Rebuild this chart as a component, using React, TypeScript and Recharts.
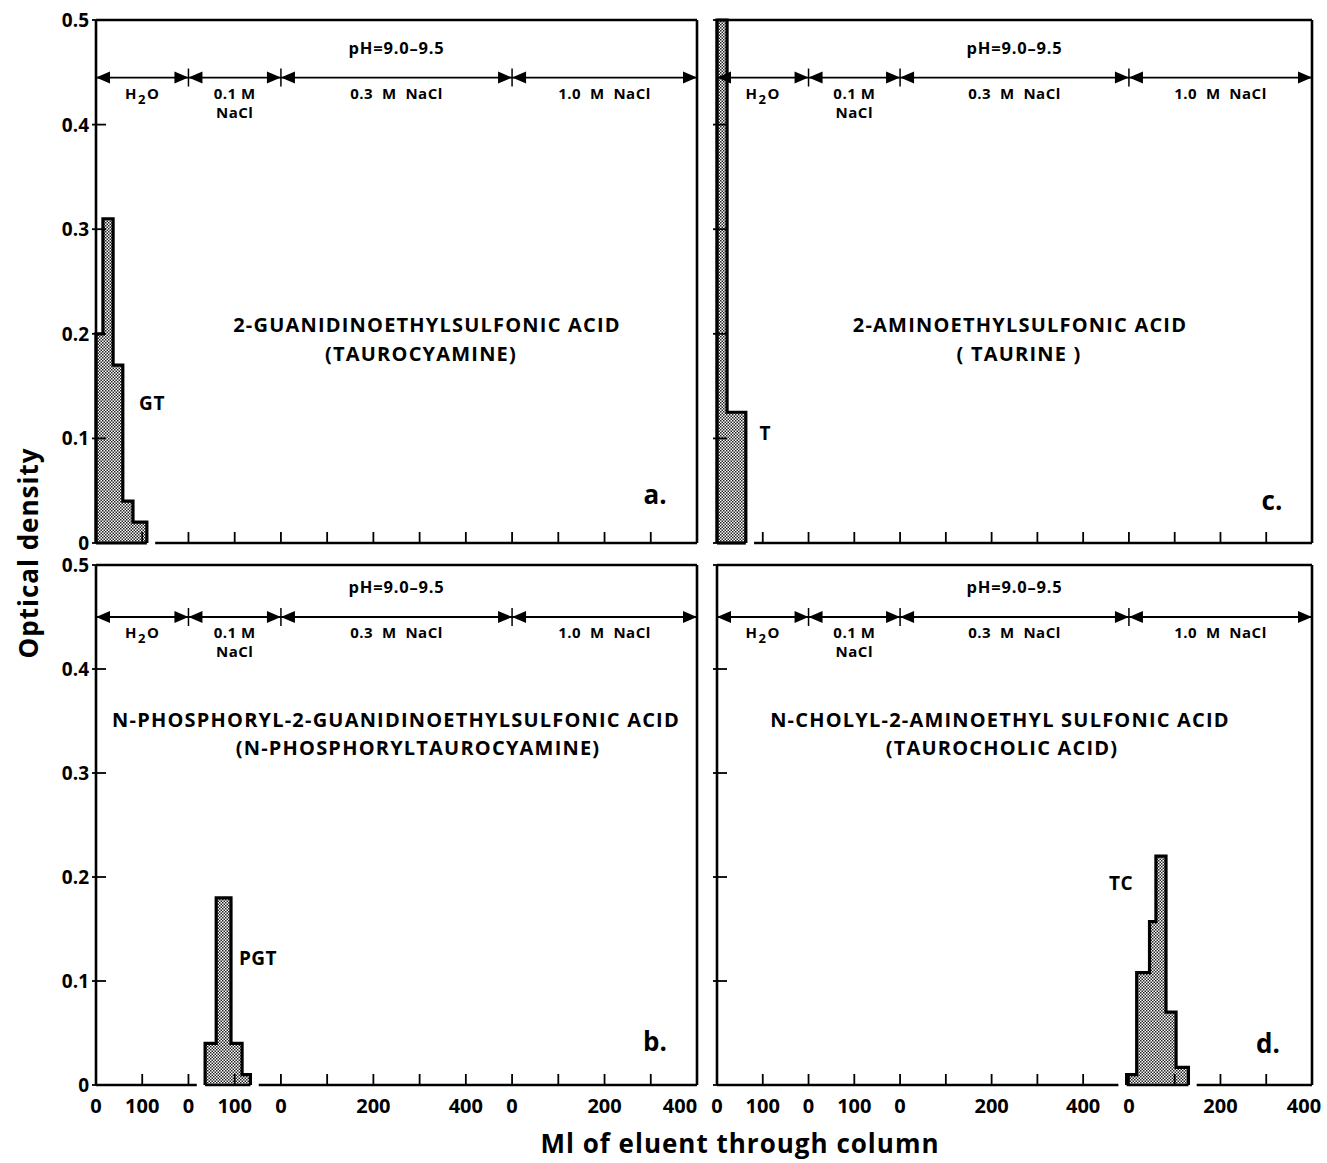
import React from 'react';
import { ComposedChart, Area, XAxis, YAxis, ReferenceLine, ReferenceDot } from 'recharts';

// the x axis runs through four eluent segments laid end to end (ml, cumulative)
const segmentStarts = [0, 200, 400, 900];
const segmentEnds = [200, 400, 900, 1300];
const segmentCenters = [100, 300, 650, 1100];
const segmentNames = [['H2O'], ['0.1 M', 'NaCl'], ['0.3  M  NaCl'], ['1.0  M  NaCl']];
const segmentTickLabels = [[0, 100], [0, 100], [0, 200, 400], [0, 200, 400]];
const xTicks = [0, 100, 200, 300, 400, 500, 600, 700, 800, 900, 1000, 1100, 1200, 1300];
const yTicks = [0, 0.1, 0.2, 0.3, 0.4, 0.5];
const phText = 'pH=9.0\u20139.5';

// fraction edges (ml) and optical density of each fraction
const gtEdges = [0, 15, 37, 58, 80, 110];
const gtDensity = [0.2, 0.31, 0.17, 0.04, 0.02];
const pgtEdges = [236, 260, 292, 316, 334];
const pgtDensity = [0.04, 0.18, 0.04, 0.01];
const tEdges = [0, 22, 63];
const tDensity = [0.5, 0.125];
const tcEdges = [895, 917, 945, 959, 981, 1003, 1030];
const tcDensity = [0.01, 0.108, 0.157, 0.22, 0.07, 0.017];

const FONT = "'Open Sans', 'DejaVu Sans', sans-serif";
const AXIS_GAP = 18; // ml of bare baseline left either side of a peak

const stepData = (edges: number[], values: number[]) => {
  const pts = [{ ml: edges[0], od: 0 }];
  values.forEach((v, i) => pts.push({ ml: edges[i], od: v }));
  pts.push({ ml: edges[edges.length - 1], od: 0 });
  return pts;
};

const tickLabel = (t: number) => {
  for (let i = 0; i < segmentStarts.length; i++) {
    const local = t - segmentStarts[i];
    if (t <= segmentEnds[i] && segmentTickLabels[i].includes(local)) return String(local);
  }
  return '';
};

const BottomTick = (props: any) => {
  const { x, y, payload, showLabel, lastShift } = props;
  const label = showLabel ? tickLabel(payload.value) : '';
  const isLast = payload.value === xTicks[xTicks.length - 1];
  return (
    <g>
      <line x1={x} x2={x} y1={y} y2={y - 11} stroke="#000" strokeWidth={1.8} />
      {label && (
        <text x={x + (isLast ? lastShift : 0)} y={y + 28} textAnchor="middle" fontSize={20} fontWeight={700} fontFamily={FONT} fill="#000">
          {label}
        </text>
      )}
    </g>
  );
};

const TopTick = (props: any) => {
  const { x, y } = props;
  return <line x1={x} x2={x} y1={y} y2={y + 11} stroke="#000" strokeWidth={1.8} />;
};

const LeftTick = (props: any) => {
  const { x, y, payload, showLabel } = props;
  return (
    <g>
      <line x1={x - 4} x2={x + 10} y1={y} y2={y} stroke="#000" strokeWidth={1.8} />
      {showLabel && (
        <text x={x - 7} y={y + 7} textAnchor="end" fontSize={19} fontWeight={700} fontFamily={FONT} fill="#000">
          {String(payload.value)}
        </text>
      )}
    </g>
  );
};

const RightTick = (props: any) => {
  const { x, y } = props;
  return <line x1={x - 11} x2={x} y1={y} y2={y} stroke="#000" strokeWidth={1.8} />;
};

const BoundaryMark = (props: any) => {
  const { cx, cy, index } = props;
  const first = index === 0;
  const last = index === segmentEnds.length;
  return (
    <g>
      {!last && <polygon points={`${cx},${cy} ${cx + 14},${cy - 6} ${cx + 14},${cy + 6}`} fill="#000" />}
      {!first && <polygon points={`${cx},${cy} ${cx - 14},${cy - 6} ${cx - 14},${cy + 6}`} fill="#000" />}
      {!first && !last && <line x1={cx} x2={cx} y1={cy - 9} y2={cy + 9} stroke="#000" strokeWidth={1.5} />}
    </g>
  );
};

const SegmentName = (props: any) => {
  const { cx, cy, lines } = props;
  return (
    <g fontFamily={FONT} fontWeight={700} fontSize={15} fill="#000" letterSpacing={0.5}>
      {lines.map((ln: string, i: number) =>
        ln === 'H2O' ? (
          <text key={i} x={cx} y={cy + 21} textAnchor="middle">
            H<tspan dx={1} dy={5} fontSize={13}>2</tspan>
            <tspan dx={1} dy={-5}>O</tspan>
          </text>
        ) : (
          <text key={i} x={cx} y={cy + 21 + i * 19} textAnchor="middle" style={{ whiteSpace: 'pre' }}>
            {ln}
          </text>
        ),
      )}
    </g>
  );
};

const PhLabel = (props: any) => {
  const { cx, cy } = props;
  return (
    <text x={cx} y={cy - 24} textAnchor="middle" fontFamily={FONT} fontWeight={700} fontSize={16.5} letterSpacing={0.8} fill="#000">
      {phText}
    </text>
  );
};

interface PanelProps {
  left: number;
  top: number;
  plotW: number;
  plotH: number;
  edges: number[];
  density: number[];
  yLabels: boolean;
  xLabels: boolean;
  lastShift: number;
  arrowLevel: number;
}

function Panel({ left, top, plotW, plotH, edges, density, yLabels, xLabels, lastShift, arrowLevel }: PanelProps) {
  const data = stepData(edges, density);
  const boundaries = [segmentStarts[0], ...segmentEnds];
  const frame = { stroke: '#000', strokeWidth: 2.6 };
  const first = edges[0];
  const last = edges[edges.length - 1];
  // baseline: broken a little on either side of the peak, as in the original drawing
  const baseline: [number, number][] = [];
  if (first - AXIS_GAP > 0) baseline.push([0, first - AXIS_GAP]);
  baseline.push([first, last]);
  if (last + AXIS_GAP < 1300) baseline.push([last + AXIS_GAP, 1300]);
  return (
    <div style={{ position: 'absolute', left: left - 60, top: top - 20 }}>
      <ComposedChart width={plotW + 80} height={plotH + 64} data={data} margin={{ top: 0, right: 0, bottom: 0, left: 0 }}>
        <defs>
          <pattern id="stipple" width="3" height="3" patternUnits="userSpaceOnUse">
            <rect width="3" height="3" fill="#fff" />
            <rect width="1.5" height="1.5" fill="#222" />
            <rect x="1.5" y="1.5" width="1.5" height="1.5" fill="#222" />
          </pattern>
        </defs>
        <XAxis
          dataKey="ml"
          type="number"
          domain={[0, 1300]}
          ticks={xTicks}
          interval={0}
          height={44}
          tickSize={0}
          tickMargin={0}
          axisLine={false}
          tickLine={false}
          tick={(p: any) => <BottomTick {...p} showLabel={xLabels} lastShift={lastShift} />}
        />
        <XAxis
          xAxisId="top"
          orientation="top"
          type="number"
          domain={[0, 1300]}
          ticks={xTicks}
          interval={0}
          height={20}
          tickSize={0}
          tickMargin={0}
          axisLine={frame}
          tickLine={false}
          tick={TopTick}
        />
        <YAxis
          type="number"
          domain={[0, 0.5]}
          ticks={yTicks}
          interval={0}
          width={60}
          tickSize={0}
          tickMargin={0}
          axisLine={frame}
          tickLine={false}
          tick={(p: any) => <LeftTick {...p} showLabel={yLabels} />}
        />
        <YAxis
          yAxisId="right"
          orientation="right"
          type="number"
          domain={[0, 0.5]}
          ticks={yTicks}
          interval={0}
          width={20}
          tickSize={0}
          tickMargin={0}
          axisLine={frame}
          tickLine={false}
          tick={RightTick}
        />
        {baseline.map(([a, b], i) => (
          <ReferenceLine
            key={`base${i}`}
            segment={[{ x: a, y: 0 }, { x: b, y: 0 }]}
            stroke="#000"
            strokeWidth={i === 0 && first - AXIS_GAP <= 0 ? 3.2 : 2.6}
          />
        ))}
        <ReferenceLine y={arrowLevel} stroke="#000" strokeWidth={1.8} />
        {boundaries.map((b, i) => (
          <ReferenceDot key={`b${i}`} x={b} y={arrowLevel} shape={(p: any) => <BoundaryMark {...p} index={i} />} />
        ))}
        {segmentCenters.map((c, i) => (
          <ReferenceDot key={`s${i}`} x={c} y={arrowLevel} shape={(p: any) => <SegmentName {...p} lines={segmentNames[i]} />} />
        ))}
        <ReferenceDot x={segmentCenters[2]} y={arrowLevel} shape={PhLabel} />
        <Area
          dataKey="od"
          type="stepAfter"
          stroke="#000"
          strokeWidth={3.2}
          fill="url(#stipple)"
          fillOpacity={1}
          isAnimationActive={false}
          dot={false}
          activeDot={false}
        />
      </ComposedChart>
    </div>
  );
}

const textStyle = (x: number, y: number, size: number, spacing = 0): React.CSSProperties => ({
  position: 'absolute',
  left: x,
  top: y,
  transform: 'translate(-50%, -50%)',
  fontFamily: FONT,
  fontWeight: 700,
  fontSize: size,
  letterSpacing: spacing,
  whiteSpace: 'pre',
  lineHeight: 1,
  color: '#000',
});

const notes: [string, number, number, number, number][] = [
  ['2-GUANIDINOETHYLSULFONIC ACID', 427, 325, 20, 1.2],
  ['(TAUROCYAMINE)', 421, 354, 20, 1.2],
  ['2-AMINOETHYLSULFONIC ACID', 1020, 325, 20, 1.2],
  ['( TAURINE )', 1019, 354, 20, 1.2],
  ['N-PHOSPHORYL-2-GUANIDINOETHYLSULFONIC ACID', 396, 720, 20, 1.2],
  ['(N-PHOSPHORYLTAUROCYAMINE)', 418, 748, 20, 1.2],
  ['N-CHOLYL-2-AMINOETHYL SULFONIC ACID', 1000, 720, 20, 1.2],
  ['(TAUROCHOLIC ACID)', 1002, 748, 20, 1.2],
  ['GT', 152, 403, 19, 0.5],
  ['T', 765, 433, 19, 0],
  ['PGT', 258, 958, 19, 0.5],
  ['TC', 1121, 883, 19, 0.5],
  ['a.', 655, 494, 26, 0],
  ['c.', 1272, 500, 26, 0],
  ['b.', 655, 1041, 26, 0],
  ['d.', 1268, 1043, 26, 0],
];

export default function App() {
  return (
    <div style={{ position: 'absolute', left: 0, top: 0, width: 1327, height: 1163, background: '#fff', overflow: 'hidden' }}>
      <Panel left={96} top={20} plotW={601} plotH={523} edges={gtEdges} density={gtDensity} yLabels xLabels={false} lastShift={0} arrowLevel={0.445} />
      <Panel left={96} top={565} plotW={601} plotH={520} edges={pgtEdges} density={pgtDensity} yLabels xLabels lastShift={-17} arrowLevel={0.45} />
      <Panel left={717} top={20} plotW={595} plotH={523} edges={tEdges} density={tDensity} yLabels={false} xLabels={false} lastShift={0} arrowLevel={0.445} />
      <Panel left={717} top={565} plotW={595} plotH={520} edges={tcEdges} density={tcDensity} yLabels={false} xLabels lastShift={-8} arrowLevel={0.45} />
      {notes.map(([t, x, y, s, ls], i) => (
        <div key={i} style={textStyle(x, y, s, ls)}>
          {t}
        </div>
      ))}
      <div style={{ ...textStyle(28, 553, 26, 1), transform: 'translate(-50%, -50%) rotate(-90deg)' }}>Optical density</div>
      <div style={textStyle(740, 1143, 26, 1)}>Ml of eluent through column</div>
    </div>
  );
}
